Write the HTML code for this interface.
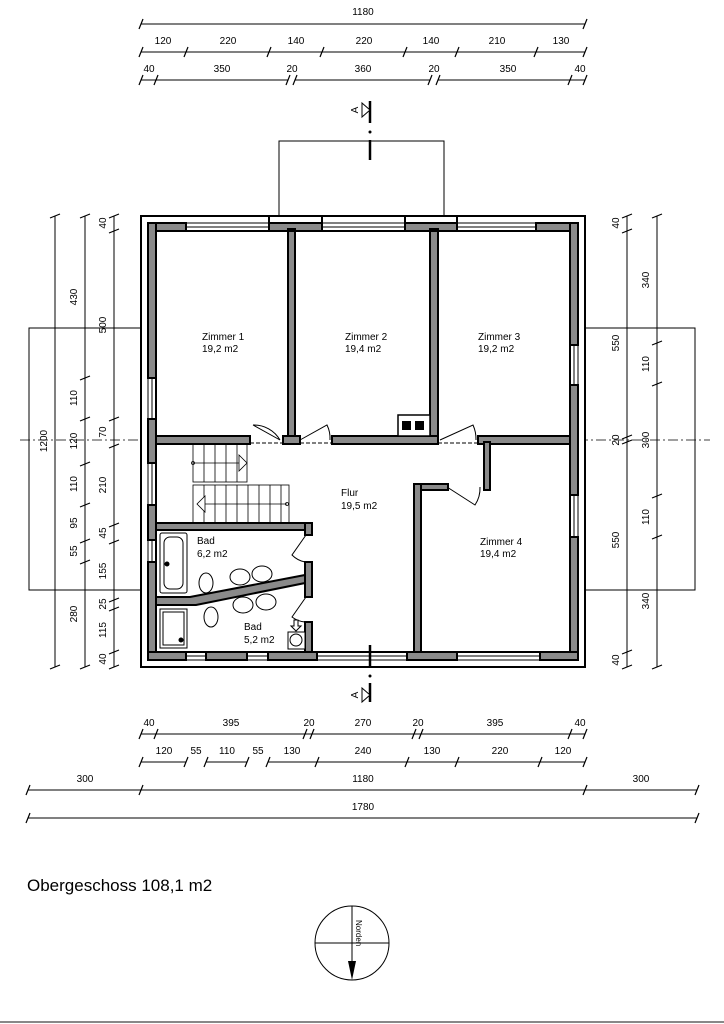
<!DOCTYPE html>
<html><head><meta charset="utf-8"><style>
html,body{margin:0;padding:0;background:#fff;width:724px;height:1024px;overflow:hidden}
svg{display:block}
text{font-family:"Liberation Sans",Arial,sans-serif;fill:#000}
.d{font-size:10px;text-anchor:middle}
.r{font-size:10px}
</style></head><body>
<svg width="724" height="1024" viewBox="0 0 724 1024" xmlns="http://www.w3.org/2000/svg">
<g stroke="#000" stroke-width="1" fill="none">
<line x1="141" y1="24" x2="585" y2="24"/>
<line x1="141" y1="52" x2="585" y2="52"/>
<line x1="141" y1="80" x2="156" y2="80"/><line x1="156" y1="80" x2="288" y2="80"/><line x1="295" y1="80" x2="430" y2="80"/><line x1="438" y1="80" x2="570" y2="80"/><line x1="570" y1="80" x2="585" y2="80"/>
<line x1="141" y1="734" x2="585" y2="734"/>
<line x1="141" y1="762" x2="186" y2="762"/><line x1="206" y1="762" x2="247" y2="762"/><line x1="268" y1="762" x2="585" y2="762"/>
<line x1="28" y1="790" x2="697" y2="790"/>
<line x1="28" y1="818" x2="697" y2="818"/>
<line x1="55" y1="216" x2="55" y2="667"/>
<line x1="85" y1="216" x2="85" y2="667"/>
<line x1="114" y1="216" x2="114" y2="667"/>
<line x1="627" y1="216" x2="627" y2="667"/>
<line x1="657" y1="216" x2="657" y2="667"/>
<polyline points="279,216 279,141 444,141 444,216"/>
<polyline points="141,328 29,328 29,590 141,590"/>
<polyline points="585,328 695,328 695,590 585,590"/>
</g>
<g stroke="#000" stroke-width="1.2">
<path d="M139,29 L143,19 M583,29 L587,19
M139,57L143,47 M184,57L188,47 M267,57L271,47 M320,57L324,47 M403,57L407,47 M455,57L459,47 M534,57L538,47 M583,57L587,47
M139,85L143,75 M154,85L158,75 M286,85L290,75 M293,85L297,75 M428,85L432,75 M436,85L440,75 M568,85L572,75 M583,85L587,75
M139,739L143,729 M154,739L158,729 M303,739L307,729 M310,739L314,729 M412,739L416,729 M419,739L423,729 M568,739L572,729 M583,739L587,729
M139,767L143,757 M184,767L188,757 M204,767L208,757 M245,767L249,757 M266,767L270,757 M315,767L319,757 M405,767L409,757 M455,767L459,757 M538,767L542,757 M583,767L587,757
M26,795L30,785 M139,795L143,785 M583,795L587,785 M695,795L699,785
M26,823L30,813 M695,823L699,813
M50,218L60,214 M50,669L60,665
M80,218L90,214 M80,380L90,376 M80,421L90,417 M80,466L90,462 M80,507L90,503 M80,543L90,539 M80,564L90,560 M80,669L90,665
M109,218L119,214 M109,233L119,229 M109,421L119,417 M109,448L119,444 M109,527L119,523 M109,544L119,540 M109,602L119,598 M109,611L119,607 M109,654L119,650 M109,669L119,665
M622,218L632,214 M622,233L632,229 M622,439L632,435 M622,444L632,440 M622,654L632,650 M622,669L632,665
M652,218L662,214 M652,345L662,341 M652,386L662,382 M652,498L662,494 M652,539L662,535 M652,669L662,665"/>
</g>
<g class="d">
<text x="363" y="15">1180</text>
<text x="163" y="44">120</text><text x="228" y="44">220</text><text x="296" y="44">140</text><text x="364" y="44">220</text><text x="431" y="44">140</text><text x="497" y="44">210</text><text x="561" y="44">130</text>
<text x="149" y="72">40</text><text x="222" y="72">350</text><text x="292" y="72">20</text><text x="363" y="72">360</text><text x="434" y="72">20</text><text x="508" y="72">350</text><text x="580" y="72">40</text>
<text x="149" y="726">40</text><text x="231" y="726">395</text><text x="309" y="726">20</text><text x="363" y="726">270</text><text x="418" y="726">20</text><text x="495" y="726">395</text><text x="580" y="726">40</text>
<text x="164" y="754">120</text><text x="196" y="754">55</text><text x="227" y="754">110</text><text x="258" y="754">55</text><text x="292" y="754">130</text><text x="363" y="754">240</text><text x="432" y="754">130</text><text x="500" y="754">220</text><text x="563" y="754">120</text>
<text x="85" y="782">300</text><text x="363" y="782">1180</text><text x="641" y="782">300</text>
<text x="363" y="810">1780</text>
</g>
<g class="d">
<text transform="translate(47,441) rotate(-90)">1200</text>
<text transform="translate(77,297) rotate(-90)">430</text>
<text transform="translate(77,398) rotate(-90)">110</text>
<text transform="translate(77,441) rotate(-90)">120</text>
<text transform="translate(77,484) rotate(-90)">110</text>
<text transform="translate(77,523) rotate(-90)">95</text>
<text transform="translate(77,551) rotate(-90)">55</text>
<text transform="translate(77,614) rotate(-90)">280</text>
<text transform="translate(106,223) rotate(-90)">40</text>
<text transform="translate(106,325) rotate(-90)">500</text>
<text transform="translate(106,432) rotate(-90)">70</text>
<text transform="translate(106,485) rotate(-90)">210</text>
<text transform="translate(106,533) rotate(-90)">45</text>
<text transform="translate(106,571) rotate(-90)">155</text>
<text transform="translate(106,604) rotate(-90)">25</text>
<text transform="translate(106,630) rotate(-90)">115</text>
<text transform="translate(106,659) rotate(-90)">40</text>
<text transform="translate(619,223) rotate(-90)">40</text>
<text transform="translate(619,343) rotate(-90)">550</text>
<text transform="translate(619,440) rotate(-90)">20</text>
<text transform="translate(619,540) rotate(-90)">550</text>
<text transform="translate(619,660) rotate(-90)">40</text>
<text transform="translate(649,280) rotate(-90)">340</text>
<text transform="translate(649,364) rotate(-90)">110</text>
<text transform="translate(649,440) rotate(-90)">300</text>
<text transform="translate(649,517) rotate(-90)">110</text>
<text transform="translate(649,601) rotate(-90)">340</text>
</g>
<line x1="20" y1="440" x2="710" y2="440" stroke="#000" stroke-width="0.8" stroke-dasharray="10,3,2,3"/>
<line x1="413" y1="446" x2="413" y2="486" stroke="#000" stroke-width="0.8" stroke-dasharray="8,3,2,3"/>
<line x1="420" y1="446" x2="420" y2="486" stroke="#000" stroke-width="0.8" stroke-dasharray="8,3,2,3"/>

<rect x="141" y="216" width="444" height="451" fill="#fff" stroke="#000" stroke-width="2"/>
<rect x="148" y="223" width="430" height="437" fill="none" stroke="#000" stroke-width="1"/>
<rect x="156" y="231" width="414" height="421" fill="#fff" stroke="#000" stroke-width="2"/>
<g fill="#8a8a8a" stroke="#000" stroke-width="2">
<rect x="148" y="223" width="38" height="8"/><rect x="269" y="223" width="53" height="8"/><rect x="405" y="223" width="52" height="8"/><rect x="536" y="223" width="42" height="8"/>
<rect x="148" y="223" width="8" height="155"/><rect x="148" y="419" width="8" height="44"/><rect x="148" y="505" width="8" height="35"/><rect x="148" y="562" width="8" height="98"/>
<rect x="570" y="223" width="8" height="122"/><rect x="570" y="385" width="8" height="110"/><rect x="570" y="537" width="8" height="123"/>
<rect x="148" y="652" width="38" height="8"/><rect x="206" y="652" width="41" height="8"/><rect x="268" y="652" width="49" height="8"/><rect x="407" y="652" width="50" height="8"/><rect x="540" y="652" width="38" height="8"/>
<rect x="288" y="229" width="7" height="208"/>
<rect x="283" y="436" width="17" height="8"/>
<rect x="430" y="229" width="8" height="208"/>
<rect x="156" y="436" width="94" height="8"/>
<rect x="332" y="436" width="106" height="8" />
<rect x="478" y="436" width="92" height="8"/>
<rect x="484" y="442" width="6" height="48"/>
<rect x="414" y="484" width="34" height="6"/>
<rect x="414" y="484" width="7" height="168"/>
<rect x="156" y="523" width="156" height="7"/>
<rect x="305" y="523" width="7" height="12"/>
<rect x="305" y="562" width="7" height="35"/>
<rect x="305" y="622" width="7" height="30"/>
<polygon points="156,597 190,597 305,575 305,583 196,605 156,605"/>
</g>
<g fill="none" stroke="#000" stroke-width="2">
<rect x="269" y="216" width="53" height="15"/><rect x="405" y="216" width="52" height="15"/>
</g>
<g stroke="#000" stroke-width="1">
<line x1="186" y1="227" x2="269" y2="227"/><line x1="322" y1="227" x2="405" y2="227"/><line x1="457" y1="227" x2="536" y2="227"/>
<line x1="186" y1="656" x2="206" y2="656"/><line x1="247" y1="656" x2="268" y2="656"/><line x1="317" y1="656" x2="407" y2="656"/><line x1="457" y1="656" x2="540" y2="656"/>
<line x1="152" y1="378" x2="152" y2="419"/><line x1="152" y1="463" x2="152" y2="505"/><line x1="152" y1="540" x2="152" y2="562"/>
<line x1="574" y1="345" x2="574" y2="385"/><line x1="574" y1="495" x2="574" y2="537"/>
</g>
<rect x="398" y="415" width="32" height="21" fill="#fff" stroke="#000" stroke-width="1.5"/>
<rect x="402" y="421" width="9" height="9" fill="#000"/><rect x="415" y="421" width="9" height="9" fill="#000"/>
<g stroke="#000" stroke-width="1" fill="none">
<path d="M280,440 L253,425 M253,425 A30,30 0 0 1 280,440"/>
<path d="M300,440 L327,425 A30,30 0 0 1 330,440"/>
<path d="M440,440 L473,425 A34,34 0 0 1 476,440"/>
<path d="M447,487 L475,505 A30,30 0 0 0 480,487"/>
<path d="M306,535 L292,555 A25,25 0 0 0 305,562"/>
<path d="M306,597 L292,617 A25,25 0 0 0 305,622"/>
<line x1="250" y1="443" x2="283" y2="443" stroke-dasharray="4,2"/>
<line x1="300" y1="443" x2="332" y2="443" stroke-dasharray="4,2"/>
<line x1="438" y1="443" x2="478" y2="443" stroke-dasharray="4,2"/>
</g>
<g stroke="#000" stroke-width="0.8" fill="none">
<rect x="193" y="444" width="54" height="38"/>
<path d="M204,444V482 M215,444V482 M226,444V482 M237,444V482"/>
<line x1="193" y1="463" x2="245" y2="463"/><circle cx="193" cy="463" r="1.5"/>
<path d="M239,455 L247,463 L239,471 Z" fill="#fff"/>
<rect x="193" y="485" width="96" height="38"/>
<path d="M204,485V523 M215,485V523 M226,485V523 M237,485V523 M248,485V523 M259,485V523 M270,485V523 M281,485V523"/>
<line x1="197" y1="504" x2="287" y2="504"/><circle cx="287" cy="504" r="1.5"/>
<path d="M205,496 L197,504 L205,512 Z" fill="#fff"/>
</g>
<g stroke="#000" stroke-width="1" fill="#fff">
<rect x="160" y="533" width="27" height="60" rx="2"/><rect x="164" y="537" width="19" height="52" rx="6"/>
<circle cx="167" cy="564" r="2" fill="#000"/>
<rect x="160" y="609" width="27" height="39"/><rect x="163" y="612" width="21" height="33"/>
<circle cx="181" cy="640" r="2" fill="#000"/>
<ellipse cx="206" cy="583" rx="7" ry="10"/><ellipse cx="211" cy="617" rx="7" ry="10"/>
<ellipse cx="240" cy="577" rx="10" ry="8"/><ellipse cx="262" cy="574" rx="10" ry="8"/>
<ellipse cx="243" cy="605" rx="10" ry="8"/><ellipse cx="266" cy="602" rx="10" ry="8"/>
<rect x="288" y="632" width="17" height="17"/><circle cx="296" cy="640" r="6"/>
<path d="M294,620 h4 v6 h3 l-5,5 l-5,-5 h3 z"/>
</g>
<g class="r">
<text x="202" y="340">Zimmer 1</text><text x="202" y="352">19,2 m2</text>
<text x="345" y="340">Zimmer 2</text><text x="345" y="352">19,4 m2</text>
<text x="478" y="340">Zimmer 3</text><text x="478" y="352">19,2 m2</text>
<text x="341" y="496">Flur</text><text x="341" y="509">19,5 m2</text>
<text x="480" y="545">Zimmer 4</text><text x="480" y="557">19,4 m2</text>
<text x="197" y="544">Bad</text><text x="197" y="557">6,2 m2</text>
<text x="244" y="630">Bad</text><text x="244" y="643">5,2 m2</text>
</g>
<g stroke="#000">
<line x1="370" y1="101" x2="370" y2="123" stroke-width="2.5"/>
<line x1="370" y1="140" x2="370" y2="160" stroke-width="2.5"/>
<line x1="370" y1="645" x2="370" y2="668" stroke-width="2.5"/>
<line x1="370" y1="683" x2="370" y2="702" stroke-width="2.5"/>
<path d="M362,103 L370,110 L362,117 Z" fill="#fff" stroke-width="1"/>
<path d="M362,688 L370,695 L362,702 Z" fill="#fff" stroke-width="1"/>
</g>
<circle cx="370" cy="132" r="1.5"/><circle cx="370" cy="676" r="1.5"/>
<text transform="translate(358,110) rotate(-90)" class="d" font-size="9">A</text>
<text transform="translate(358,695) rotate(-90)" class="d" font-size="9">A</text>
<text x="27" y="891" font-size="17">Obergeschoss 108,1 m2</text>
<g stroke="#000" stroke-width="1" fill="none">
<circle cx="352" cy="943" r="37"/>
<line x1="315" y1="943" x2="389" y2="943"/>
<line x1="352" y1="906" x2="352" y2="965"/>
</g>
<path d="M348,961 L356,961 L352,980 Z" fill="#000"/>
<text transform="translate(356,920) rotate(90)" font-size="8">Norden</text>
<line x1="0" y1="1022" x2="724" y2="1022" stroke="#888" stroke-width="2"/>
</svg>
</body></html>
